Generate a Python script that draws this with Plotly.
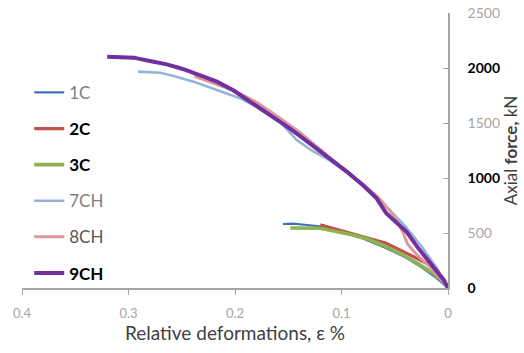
import plotly.graph_objects as go

# ---- data ----
eps_1C = [0.155, 0.145, 0.133, 0.12, 0.10, 0.08, 0.06, 0.04, 0.025, 0.012, 0.0]
F_1C = [582, 585, 573, 560, 510, 450, 370, 280, 190, 100, 0]

eps_2C = [0.12, 0.10, 0.08, 0.058, 0.04, 0.026, 0.011, 0.0]
F_2C = [575, 522, 462, 406, 322, 254, 179, 0]

eps_3C = [0.148, 0.120, 0.089, 0.073, 0.058, 0.042, 0.026, 0.014, 0.004, 0.0]
F_3C = [545, 543, 482, 436, 376, 300, 209, 133, 57, 0]

eps_7CH = [0.291, 0.270, 0.255, 0.239, 0.217, 0.195, 0.180, 0.158, 0.142, 0.128,
           0.111, 0.095, 0.080, 0.060, 0.040, 0.025, 0.012, 0.0]
F_7CH = [1967, 1957, 1921, 1876, 1800, 1724, 1648, 1512, 1345, 1250,
         1160, 1050, 930, 760, 560, 380, 200, 0]

eps_8CH = [0.238, 0.22, 0.20, 0.18, 0.16, 0.14, 0.12, 0.10, 0.08, 0.065,
           0.05, 0.042, 0.038, 0.030, 0.02, 0.01, 0.0]
F_8CH = [1925, 1860, 1790, 1690, 1560, 1420, 1260, 1090, 945, 820,
         650, 500, 400, 310, 220, 120, 0]

eps_9CH = [0.320, 0.295, 0.280, 0.264, 0.249, 0.233, 0.217, 0.202, 0.183, 0.167,
           0.151, 0.136, 0.111, 0.095, 0.080, 0.067, 0.058, 0.039, 0.029, 0.017,
           0.004, 0.0]
F_9CH = [2103, 2094, 2064, 2033, 1991, 1936, 1876, 1800, 1679, 1573,
         1467, 1361, 1179, 1058, 936, 815, 679, 512, 376, 224,
         73, 0]

x_tickvals = [0.4, 0.3, 0.2, 0.1, 0]
x_ticktext = ["0.4", "0.3", "0.2", "0.1", "0"]
y_tickvals = [0, 500, 1000, 1500, 2000, 2500]
y_ticktext = ["<b>0</b>", "<span style='color:#a6a6a6'>500</span>", "<b>1000</b>",
              "<span style='color:#a6a6a6'>1500</span>", "<b>2000</b>",
              "<span style='color:#a6a6a6'>2500</span>"]

series = [
    ("<span style='color:#7f7f7f'>1C</span>", eps_1C, F_1C, "#3d72b4", 2.2),
    ("<b>2C</b>", eps_2C, F_2C, "#c0504d", 3.2),
    ("<b>3C</b>", eps_3C, F_3C, "#8fb34f", 3.6),
    ("<span style='color:#7f7f7f'>7CH</span>", eps_7CH, F_7CH, "#95b3d7", 2.6),
    ("<span style='color:#595959'>8CH</span>", eps_8CH, F_8CH, "#df9a98", 3.0),
    ("<b>9CH</b>", eps_9CH, F_9CH, "#7030a0", 4.0),
]

fig = go.Figure()
for i, (name, xs, ys, color, w) in enumerate(series):
    fig.add_trace(go.Scatter(x=xs, y=ys, mode="lines", name=name,
                             legendgroup=f"g{i}",
                             line=dict(color=color, width=w)))

fig.update_layout(
    width=524, height=353,
    margin=dict(l=22, r=76, t=13, b=65),
    paper_bgcolor="white", plot_bgcolor="white",
    font=dict(family="Lato, Open Sans, sans-serif", size=14, color="#000000"),
    showlegend=True,
    legend=dict(x=0.017, y=0.775, xanchor="left", yanchor="top",
                tracegroupgap=11, font=dict(size=17),
                bgcolor="rgba(0,0,0,0)", itemwidth=30),
    xaxis=dict(range=[0.4, 0], autorange=False, automargin=False,
               tickvals=x_tickvals, ticktext=x_ticktext,
               showgrid=False, zeroline=False,
               showline=True, linecolor="#a6a6a6", linewidth=1.5,
               ticks="outside", ticklen=5, tickcolor="#a6a6a6",
               ticklabelstandoff=8,
               tickfont=dict(size=13, color="#a6a6a6"),
               title=dict(text="Relative deformations, ε %",
                          font=dict(size=19, color="#404040"), standoff=4)),
    yaxis=dict(range=[0, 2500], autorange=False, side="right", automargin=False,
               tickvals=y_tickvals, ticktext=y_ticktext,
               showgrid=False, zeroline=False,
               showline=True, linecolor="#a6a6a6", linewidth=1.5,
               ticks="inside", ticklen=5, tickcolor="#a6a6a6",
               ticklabelstandoff=15, ticklabeloverflow="allow",
               tickfont=dict(size=14, color="#000000"),
               title=dict(text="Axial <b>force,</b> kN",
                          font=dict(size=17, color="#404040"), standoff=2)),
)

# remove the default 8px page margin so the figure fills the window exactly
fig.write_html("out.html",
               config={"displayModeBar": False},
               post_script="document.body.style.margin='0';document.body.style.padding='0';")
